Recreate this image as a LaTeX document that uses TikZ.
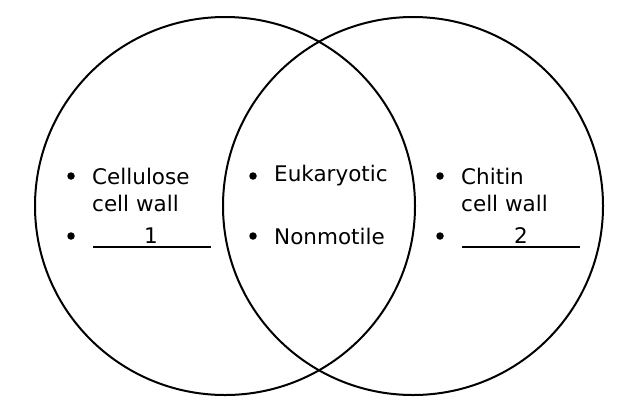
\documentclass[tikz,border=0pt]{standalone}
\usepackage{fontspec}
\setmainfont{DejaVu Sans}
\begin{document}
\begin{tikzpicture}[x=1bp,y=-1bp,
  txt/.style={anchor=west,inner sep=0pt,font=\fontsize{21.5bp}{27bp}\selectfont},
  bul/.style={circle,fill=black,inner sep=0pt,minimum size=7.5bp},
  ring/.style={line width=2bp}]
\useasboundingbox (0,0) rectangle (622,409);
\draw[ring] (225,206) ellipse [x radius=190, y radius=189];
\draw[ring] (413,206) ellipse [x radius=190, y radius=189];
% left
\node[bul] (b1) at (71,176) {};
\node[txt] (t1) at (92,176) {Cellulose};
\node[txt] (t1b) at (92,203) {cell wall};
\node[bul] (b2) at (71,236) {};
\node[txt,anchor=center] (n1) at (151,236) {1};
\coordinate (l1a) at (93,247); \coordinate (l1b) at (211,247);
\draw[ring] (l1a) -- (l1b);
% middle
\node[bul] (b3) at (253,176) {};
\node[txt] (t3) at (274,176) {Eukaryotic};
\node[bul] (b4) at (253,236) {};
\node[txt] (t4) at (274,236) {Nonmotile};
% right
\node[bul] (b5) at (440,176) {};
\node[txt] (t5) at (461,176) {Chitin};
\node[txt] (t5b) at (461,203) {cell wall};
\node[bul] (b6) at (440,236) {};
\node[txt,anchor=center] (n2) at (521,236) {2};
\coordinate (l2a) at (462,247); \coordinate (l2b) at (580,247);
\draw[ring] (l2a) -- (l2b);
\end{tikzpicture}
\end{document}
